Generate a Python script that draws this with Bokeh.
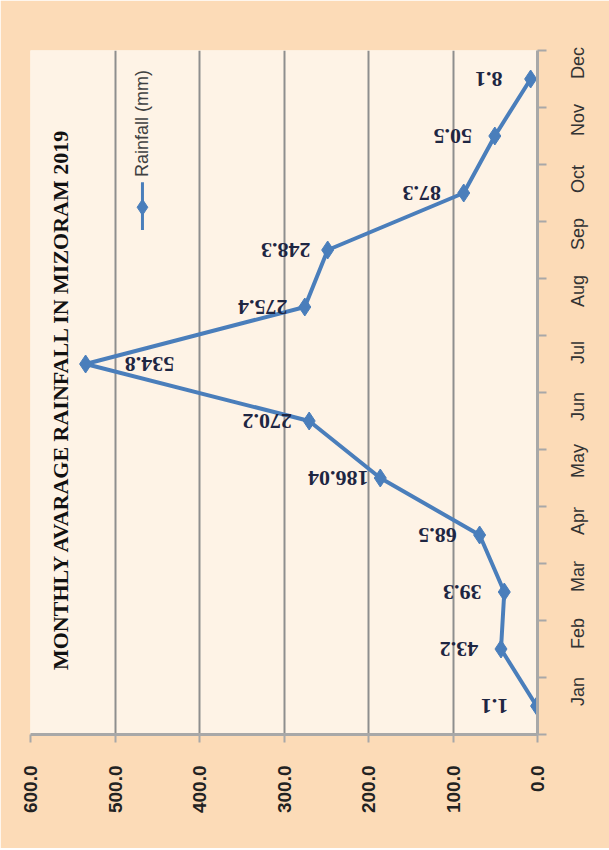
import math
from bokeh.plotting import figure
from bokeh.models import Range1d, FixedTicker, Label, ColumnDataSource, NumeralTickFormatter
from bokeh.core.properties import value
from bokeh.embed import file_html
from bokeh.resources import INLINE

# ---- data ----
months = ["Jan", "Feb", "Mar", "Apr", "May", "Jun", "Jul", "Aug", "Sep", "Oct", "Nov", "Dec"]
rainfall = [1.1, 43.2, 39.3, 68.5, 186.04, 270.2, 534.8, 275.4, 248.3, 87.3, 50.5, 8.1]
value_ticks = [0, 100, 200, 300, 400, 500, 600]
chart_title = "MONTHLY AVARAGE RAINFALL IN MIZORAM 2019"
series_name = "Rainfall (mm)"

# ---- styles ----
BLUE = "#4A7EBB"
PEACH = "#FCDBB7"
CREAM = "#FEF3E6"
GRID = "#8E8E8E"
AXIS = "#A8A8A8"

idx = list(range(len(months)))
labels = [str(v) for v in rainfall]
offsets = [64 if v > 500 else -42 for v in rainfall]
src = ColumnDataSource(dict(v=rainfall, i=idx, lab=labels, dx=offsets))

p = figure(frame_width=507, frame_height=684,
           x_range=Range1d(600, 0), y_range=Range1d(-0.5, len(months) - 0.5),
           y_axis_location="right", x_axis_location="below",
           output_backend="svg", toolbar_location=None,
           min_border_left=30, min_border_right=72, min_border_top=50, min_border_bottom=114,
           border_fill_color=PEACH, background_fill_color=CREAM, outline_line_color=None)

# grid
xt = FixedTicker(ticks=value_ticks)
p.xgrid.ticker = xt
p.xgrid.grid_line_color = GRID
p.xgrid.grid_line_width = 2
p.ygrid.visible = False

# bottom (value) axis
xa = p.xaxis[0]
xa.ticker = xt
xa.formatter = NumeralTickFormatter(format="0.0")
xa.major_label_orientation = math.pi / 2
xa.axis_line_color = AXIS
xa.axis_line_width = 3
xa.major_tick_line_color = AXIS
xa.major_tick_line_width = 2
xa.major_tick_out = 8
xa.major_tick_in = 0
xa.minor_tick_line_color = None
xa.major_label_standoff = 23
xa.major_label_text_font = "Liberation Sans"
xa.major_label_text_font_size = "19px"
xa.major_label_text_font_style = "bold"
xa.major_label_text_color = "#222222"

# right (month) axis
ya = p.yaxis[0]
ya.ticker = FixedTicker(ticks=idx, minor_ticks=[i - 0.5 for i in range(len(months) + 1)])
ya.major_label_overrides = {i: m for i, m in enumerate(months)}
ya.major_label_orientation = math.pi / 2
ya.axis_line_color = AXIS
ya.axis_line_width = 3
ya.major_tick_out = 0
ya.major_tick_in = 0
ya.minor_tick_out = 9
ya.minor_tick_in = 0
ya.minor_tick_line_color = AXIS
ya.minor_tick_line_width = 2
ya.major_label_standoff = 31
ya.major_label_text_font = "Liberation Sans"
ya.major_label_text_font_size = "18px"
ya.major_label_text_color = "#333333"

# series
p.line(x="v", y="i", source=src, line_color=BLUE, line_width=4)
p.scatter(x="v", y="i", source=src, marker="diamond", size=18, fill_color=BLUE, line_color=BLUE)
p.text(x="v", y="i", text="lab", x_offset="dx", source=src, angle=math.pi,
       text_align="center", text_baseline="middle",
       text_font=value("Liberation Serif"), text_font_style="bold",
       text_font_size="22px", text_color="#1E2642")

# title (rotated)
p.add_layout(Label(x=565, y=5.39, text=chart_title, angle=math.pi / 2,
                   text_align="center", text_baseline="middle",
                   text_font="Liberation Serif", text_font_style="bold",
                   text_font_size="22px", text_color="#111111"))

# legend (rotated)
LEG_X = 467.5
LEG_Y = 8.75
p.line(x=[LEG_X, LEG_X], y=[LEG_Y - 0.4, LEG_Y + 0.44], line_color=BLUE, line_width=3)
p.scatter(x=[LEG_X], y=[LEG_Y], marker="diamond", size=16, fill_color=BLUE, line_color=BLUE)
p.add_layout(Label(x=LEG_X, y=LEG_Y + 0.53, text=series_name, angle=math.pi / 2,
                   text_align="left", text_baseline="middle",
                   text_font="Liberation Sans", text_font_size="18px", text_color="#404040"))

open("out.html", "w").write(file_html(p, INLINE))
